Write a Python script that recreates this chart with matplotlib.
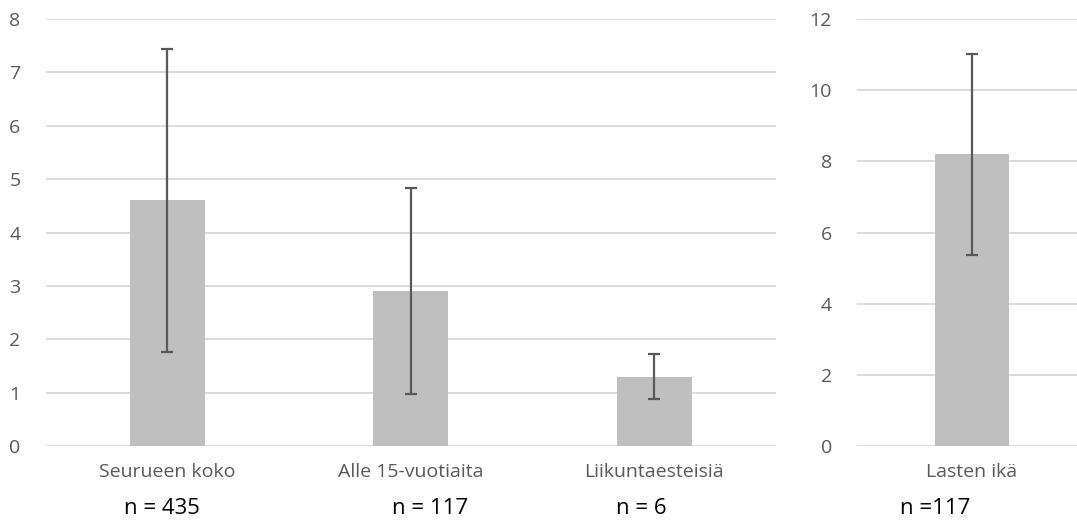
import matplotlib
matplotlib.use("Agg")
import matplotlib.pyplot as plt
import numpy as np

# Data
left_categories = ["Seurueen koko", "Alle 15-vuotiaita", "Liikuntaesteisiä"]
left_means = [4.6, 2.9, 1.3]
left_err = [2.83, 1.93, 0.42]
left_yticks = [0, 1, 2, 3, 4, 5, 6, 7, 8]

right_categories = ["Lasten ikä"]
right_means = [8.2]
right_err = [2.83]
right_yticks = [0, 2, 4, 6, 8, 10, 12]

n_labels = ["n = 435", "n = 117", "n = 6", "n =117"]
n_label_x_px = [162, 430, 641, 935]

W, H = 1077, 526
fig = plt.figure(figsize=(W / 100, H / 100), dpi=100)
plt.rcParams['font.family'] = ['Open Sans', 'DejaVu Sans']

BAR = "#BFBFBF"
ERR = "#595959"
GRID = "#D9D9D9"
TXT = "#595959"

def style(ax, ymax, yticks):
    ax.set_ylim(0, ymax)
    ax.set_yticks(yticks)
    ax.grid(axis="y", color=GRID, linewidth=1.3)
    ax.set_axisbelow(True)
    for s in ax.spines.values():
        s.set_visible(False)
    ax.tick_params(axis="both", length=0, labelsize=14, colors=TXT)
    ax.tick_params(axis="y", pad=18)
    ax.tick_params(axis="x", pad=12)

ax1 = fig.add_axes([45.5 / W, (H - 446) / H, 730.5 / W, 427 / H])
x1 = np.arange(len(left_categories))
ax1.bar(x1, left_means, width=0.31, color=BAR, zorder=2)
ax1.errorbar(x1, left_means, yerr=left_err, fmt="none", ecolor=ERR,
             elinewidth=1.6, capsize=4.3, capthick=1.6, zorder=3)
ax1.set_xlim(-0.5, len(left_categories) - 0.5)
ax1.set_xticks(x1)
ax1.set_xticklabels(left_categories)
style(ax1, 8, left_yticks)

ax2 = fig.add_axes([857 / W, (H - 446) / H, 230 / W, 427 / H])
x2 = np.arange(len(right_categories))
ax2.bar(x2, right_means, width=0.32, color=BAR, zorder=2)
ax2.errorbar(x2, right_means, yerr=right_err, fmt="none", ecolor=ERR,
             elinewidth=1.6, capsize=4.3, capthick=1.6, zorder=3)
ax2.set_xlim(-0.5, len(right_categories) - 0.5)
ax2.set_xticks(x2)
ax2.set_xticklabels(right_categories)
style(ax2, 12, right_yticks)

for lbl, xp in zip(n_labels, n_label_x_px):
    fig.text(xp / W, 1 - 508 / H, lbl, ha="center", va="center",
             fontsize=16, color="black")

fig.savefig("out.png", dpi=100)
